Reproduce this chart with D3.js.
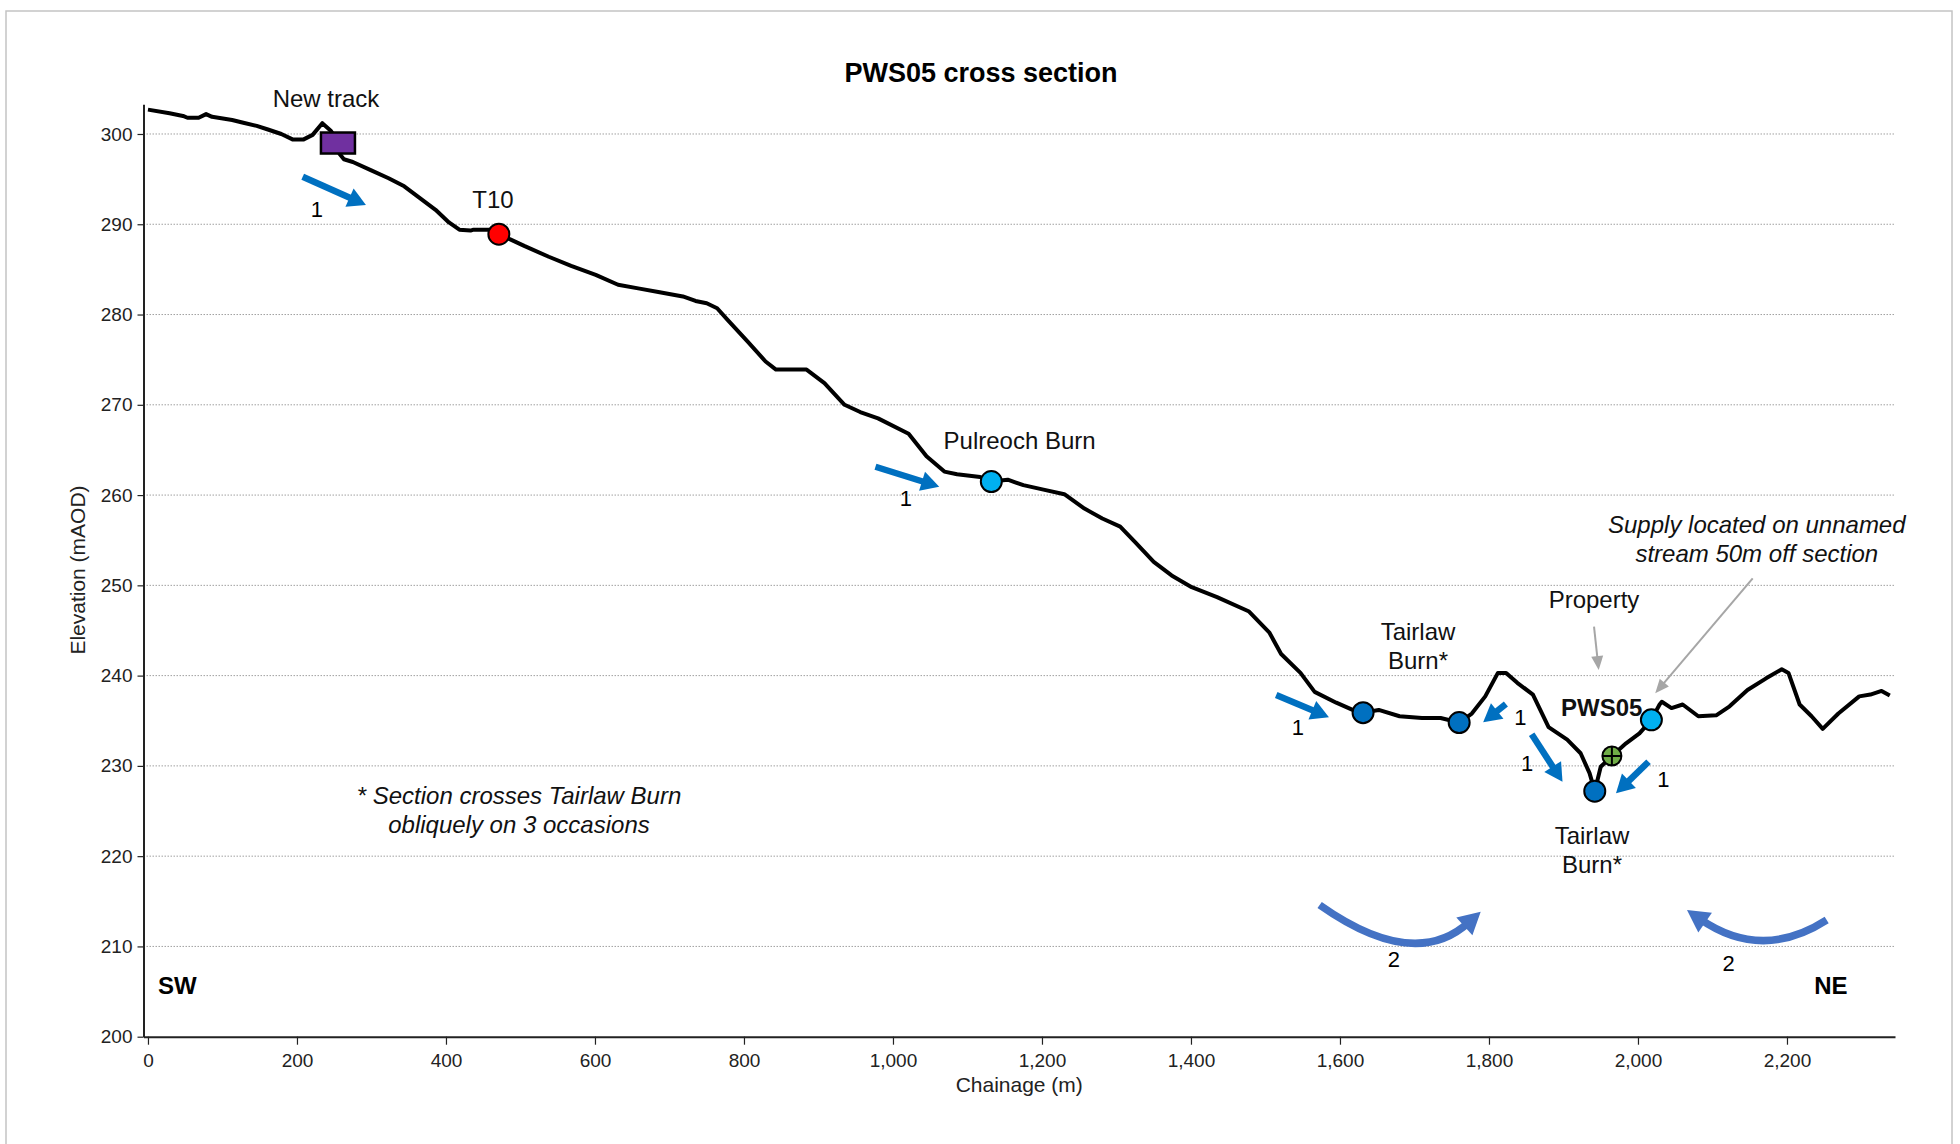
<!DOCTYPE html>
<html>
<head>
<meta charset="utf-8">
<script src="https://cdn.jsdelivr.net/npm/d3@7"></script>
<style>
  body { margin: 0; background: #fff; }
  svg { font-family: "Liberation Sans", Arial, sans-serif; }
</style>
</head>
<body>
<div id="chart"></div>
<script>
// ground profile (chainage m, elevation mAOD)
const chainage = [0, 29, 47, 53, 68, 78, 86, 113, 128, 146, 161, 179, 194, 209, 221, 234, 245, 255, 257, 263,
  275, 299, 323, 344, 365, 386, 404, 418, 433, 437, 460, 471, 487, 505, 538, 568, 601, 631, 658, 685,
  718, 735, 750, 764, 778, 805, 829, 843, 884, 908, 935, 956, 980, 1021, 1045, 1069, 1086, 1117, 1132, 1154,
  1175, 1202, 1230, 1257, 1281, 1305, 1326, 1350, 1374, 1401, 1435, 1478, 1505, 1521, 1547, 1566, 1595, 1617, 1631, 1652,
  1680, 1710, 1735, 1760, 1777, 1795, 1812, 1823, 1838, 1859, 1880, 1905, 1923, 1935, 1942, 1950, 1965, 1984, 2002, 2018,
  2029, 2032, 2045, 2060, 2081, 2105, 2123, 2147, 2172, 2193, 2202, 2217, 2233, 2248, 2269, 2297, 2312, 2327, 2338];
const elevation = [302.7, 302.3, 302.0, 301.8, 301.8, 302.2, 301.9, 301.55, 301.25, 300.9, 300.5, 300.0, 299.4, 299.4, 299.9, 301.2, 300.4, 299.2, 297.8, 297.2,
  296.9, 296.0, 295.1, 294.2, 292.9, 291.6, 290.2, 289.4, 289.3, 289.4, 289.4, 288.9, 288.3, 287.6, 286.4, 285.4, 284.4, 283.3, 282.9, 282.5,
  282.0, 281.5, 281.25, 280.7, 279.4, 277.0, 274.8, 273.9, 273.9, 272.4, 270.0, 269.2, 268.5, 266.8, 264.3, 262.6, 262.3, 262.0, 261.5, 261.7,
  261.1, 260.6, 260.1, 258.5, 257.4, 256.5, 254.7, 252.6, 251.1, 249.8, 248.7, 247.1, 244.8, 242.4, 240.3, 238.2, 237.0, 236.2, 235.9, 236.2,
  235.5, 235.3, 235.3, 234.8, 235.8, 237.7, 240.3, 240.3, 239.2, 237.9, 234.3, 232.9, 231.4, 229.2, 227.2, 229.9, 231.1, 232.5, 233.6, 235.1,
  236.8, 237.1, 236.4, 236.8, 235.5, 235.6, 236.6, 238.4, 239.7, 240.7, 240.3, 236.8, 235.5, 234.1, 235.8, 237.7, 237.9, 238.3, 237.8];

const yTicks = [200, 210, 220, 230, 240, 250, 260, 270, 280, 290, 300];
const xTicks = [0, 200, 400, 600, 800, 1000, 1200, 1400, 1600, 1800, 2000, 2200];

// features on the section: [chainage, elevation, kind]
const features = [
  [471, 288.9, "T10"],
  [1132, 261.5, "spring"],
  [1631, 235.9, "burn"],
  [1760, 234.8, "burn"],
  [1942, 227.2, "burn"],
  [2018, 235.1, "spring"]
];
const newTrack = [255, 299.0];
const property = [1965, 231.1];

// flow arrows: [from chainage, from elev, to chainage, to elev, label chainage, label elev]
const flowArrows = [
  [207.7, 295.27, 292.6, 292.13, 226.8, 291.4],
  [976.5, 263.14, 1062.1, 260.93, 1017.4, 259.45],
  [1514.4, 237.85, 1585.2, 235.4, 1543.6, 234.1],
  [1822.7, 236.85, 1792.2, 234.83, 1842.2, 235.2],
  [1857.3, 233.5, 1898.7, 228.25, 1851.3, 230.1],
  [2014.2, 230.46, 1970.5, 226.96, 2034.2, 228.25]
];
// curved arrows: start, control, end, label
const curveArrows = [
  [1572.7, 214.59, 1699.6, 207.2, 1788.9, 213.85, 1672.2, 208.31],
  [2253.3, 212.93, 2166.1, 208.32, 2065.8, 214.03, 2121.7, 207.94]
];
// text labels: [chainage, elevation, lines, style]
const labels = [
  [239, 303.93, ["New track"], "n"],
  [463, 292.69, ["T10"], "n"],
  [1170, 266.05, ["Pulreoch Burn"], "n"],
  [1704.7, 244.87, ["Tairlaw", "Burn*"], "n"],
  [1941, 248.38, ["Property"], "n"],
  [2159.5, 256.69, ["Supply located on unnamed", "stream 50m off section"], "i"],
  [1951.3, 236.41, ["PWS05"], "b"],
  [1938.3, 222.26, ["Tairlaw", "Burn*"], "n"],
  [498, 226.66, ["* Section crosses Tairlaw Burn", "obliquely on 3 occasions"], "i"]
];
// grey pointers: [from chainage, from elev, to chainage, to elev]
const pointers = [
  [1941, 245.42, 1947.3, 240.62],
  [2154, 250.78, 2023.2, 238.04]
];

const W = 1960, H = 1144;
const svg = d3.select("#chart").append("svg").attr("width", W).attr("height", H);

svg.append("rect").attr("x", 6).attr("y", 11).attr("width", 1946).attr("height", 1160)
  .attr("fill", "none").attr("stroke", "#c4c4c4").attr("stroke-width", 1.5);

const x = d3.scaleLinear().domain([-6, 2345]).range([143.5, 1895]);
const y = d3.scaleLinear().domain([200, 303.3]).range([1036.7, 104.2]);

// gridlines
svg.append("g").selectAll("line").data(yTicks.slice(1)).join("line")
  .attr("x1", x.range()[0]).attr("x2", x.range()[1])
  .attr("y1", d => y(d)).attr("y2", d => y(d))
  .attr("stroke", "#a0a0a0").attr("stroke-width", 1).attr("stroke-dasharray", "1.5,1.5");

// axes
const gy = svg.append("g").attr("transform", `translate(${x.range()[0]},0)`)
  .call(d3.axisLeft(y).tickValues(yTicks).tickSize(6).tickSizeOuter(0).tickPadding(5).tickFormat(d3.format("d")));
const gx = svg.append("g").attr("transform", `translate(0,${y(200)})`)
  .call(d3.axisBottom(x).tickValues(xTicks).tickSize(8).tickSizeOuter(0).tickPadding(6).tickFormat(d3.format(",")));
[gx, gy].forEach(g => {
  g.select(".domain").attr("stroke", "#222").attr("stroke-width", 2);
  g.selectAll(".tick line").attr("stroke", "#222").attr("stroke-width", 1.2);
  g.selectAll(".tick text").attr("fill", "#222").style("font-size", "19px").style("font-family", "Liberation Sans, Arial, sans-serif");
});
gx.selectAll(".tick text").attr("dy", "0.85em");

svg.append("text").attr("x", (x.range()[0] + x.range()[1]) / 2).attr("y", 1086)
  .attr("text-anchor", "middle").attr("dominant-baseline", "middle")
  .style("font-size", "21px").attr("fill", "#222").text("Chainage (m)");
svg.append("text").attr("transform", "translate(79,570) rotate(-90)")
  .attr("text-anchor", "middle").attr("dominant-baseline", "middle")
  .style("font-size", "21px").attr("fill", "#222").text("Elevation (mAOD)");

svg.append("text").attr("x", 981).attr("y", 75).attr("text-anchor", "middle").attr("dominant-baseline", "middle")
  .style("font-size", "27px").style("font-weight", "bold").text("PWS05 cross section");

// ground line
const profile = chainage.map((c, i) => [c, elevation[i]]);
svg.append("path").datum(profile)
  .attr("d", d3.line().x(d => x(d[0])).y(d => y(d[1])))
  .attr("fill", "none").attr("stroke", "#000").attr("stroke-width", 4).attr("stroke-linejoin", "round");

// straight flow arrows
function arrowHead(g, tx, ty, ux, uy, len, half, color) {
  const bx = tx - ux * len, by = ty - uy * len;
  g.append("path")
    .attr("d", `M${tx},${ty}L${bx - uy * half},${by + ux * half}L${bx + uy * half},${by - ux * half}Z`)
    .attr("fill", color);
}
const ga = svg.append("g");
flowArrows.forEach(a => {
  const x0 = x(a[0]), y0 = y(a[1]), x1 = x(a[2]), y1 = y(a[3]);
  const L = Math.hypot(x1 - x0, y1 - y0), ux = (x1 - x0) / L, uy = (y1 - y0) / L;
  ga.append("line").attr("x1", x0).attr("y1", y0).attr("x2", x1 - ux * 14).attr("y2", y1 - uy * 14)
    .attr("stroke", "#0070C0").attr("stroke-width", 6.5);
  arrowHead(ga, x1, y1, ux, uy, 18, 10, "#0070C0");
  ga.append("text").attr("x", x(a[4])).attr("y", y(a[5])).attr("text-anchor", "middle")
    .attr("dominant-baseline", "middle").style("font-size", "22px").text("1");
});

// curved recharge arrows
curveArrows.forEach(a => {
  const p0 = [x(a[0]), y(a[1])], c = [x(a[2]), y(a[3])], p2 = [x(a[4]), y(a[5])];
  const L = Math.hypot(p2[0] - c[0], p2[1] - c[1]), ux = (p2[0] - c[0]) / L, uy = (p2[1] - c[1]) / L;
  const e = [p2[0] - ux * 16, p2[1] - uy * 16];
  ga.append("path").attr("d", `M${p0[0]},${p0[1]}Q${c[0]},${c[1]} ${e[0]},${e[1]}`)
    .attr("fill", "none").attr("stroke", "#4472C4").attr("stroke-width", 7.5);
  arrowHead(ga, p2[0], p2[1], ux, uy, 22, 12, "#4472C4");
  ga.append("text").attr("x", x(a[6])).attr("y", y(a[7])).attr("text-anchor", "middle")
    .attr("dominant-baseline", "middle").style("font-size", "22px").text("2");
});

// grey pointers
pointers.forEach(p => {
  const x0 = x(p[0]), y0 = y(p[1]), x1 = x(p[2]), y1 = y(p[3]);
  const L = Math.hypot(x1 - x0, y1 - y0), ux = (x1 - x0) / L, uy = (y1 - y0) / L;
  svg.append("line").attr("x1", x0).attr("y1", y0).attr("x2", x1 - ux * 10).attr("y2", y1 - uy * 10)
    .attr("stroke", "#a6a6a6").attr("stroke-width", 2);
  arrowHead(svg, x1, y1, ux, uy, 14, 6, "#a6a6a6");
});

// markers
const fillFor = { T10: "#ff0000", spring: "#00b0f0", burn: "#0070c0" };
svg.append("rect").attr("x", x(newTrack[0]) - 17).attr("y", y(newTrack[1]) - 10.5)
  .attr("width", 34).attr("height", 21).attr("fill", "#7030a0").attr("stroke", "#000").attr("stroke-width", 2.5);
svg.append("g").selectAll("circle").data(features).join("circle")
  .attr("cx", d => x(d[0])).attr("cy", d => y(d[1])).attr("r", 10.5)
  .attr("fill", d => fillFor[d[2]]).attr("stroke", "#000").attr("stroke-width", 2);
const gp = svg.append("g").attr("transform", `translate(${x(property[0])},${y(property[1])})`);
gp.append("circle").attr("r", 9.5).attr("fill", "#70ad47").attr("stroke", "#000").attr("stroke-width", 2);
gp.append("path").attr("d", "M-9.5,0H9.5M0,-9.5V9.5").attr("stroke", "#000").attr("stroke-width", 2);

// text labels
labels.forEach(l => {
  const t = svg.append("text").attr("x", x(l[0])).attr("y", y(l[1])).attr("text-anchor", "middle")
    .style("font-size", "24px").attr("fill", "#111")
    .style("font-style", l[3] === "i" ? "italic" : "normal")
    .style("font-weight", l[3] === "b" ? "bold" : "normal");
  l[2].forEach((s, i) => t.append("tspan").attr("x", x(l[0])).attr("dy", i === 0 ? "0.35em" : "1.2em").text(s));
});

svg.append("text").attr("x", x(13.4)).attr("y", y(205.62)).attr("dy", "0.35em")
  .style("font-size", "24px").style("font-weight", "bold").text("SW");
svg.append("text").attr("x", x(2259)).attr("y", y(205.62)).attr("dy", "0.35em").attr("text-anchor", "middle")
  .style("font-size", "24px").style("font-weight", "bold").text("NE");
</script>
</body>
</html>
